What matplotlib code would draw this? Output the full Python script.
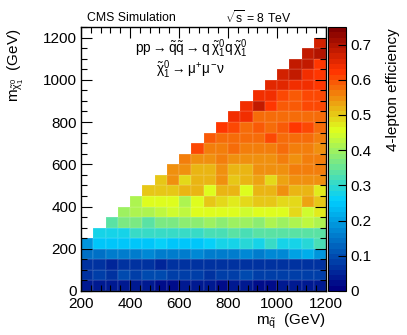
import numpy as np
import matplotlib
matplotlib.use("Agg")
import matplotlib.pyplot as plt
from matplotlib.colors import LinearSegmentedColormap, Normalize
from matplotlib.ticker import MultipleLocator

plt.rcParams['font.family'] = ['Liberation Sans', 'DejaVu Sans']
plt.rcParams['mathtext.fontset'] = 'custom'
plt.rcParams['mathtext.rm'] = 'Liberation Sans'
plt.rcParams['mathtext.it'] = 'Liberation Sans'
plt.rcParams['mathtext.bf'] = 'Liberation Sans:bold'

# bin edges (GeV)
msq_edges = np.arange(200, 1201, 50)
mchi_edges = np.arange(0, 1201, 50)

# efficiency per m_chi row (bottom -> top); each row starts at the diagonal
eff_rows = [
    [0.03, 0.03, 0.03, 0.03, 0.035, 0.03, 0.025, 0.025, 0.03, 0.03, 0.03, 0.025, 0.03, 0.03, 0.025, 0.025, 0.03, 0.03, 0.03, 0.03],
    [0.07, 0.08, 0.07, 0.09, 0.08, 0.09, 0.09, 0.08, 0.08, 0.085, 0.07, 0.08, 0.08, 0.09, 0.08, 0.08, 0.075, 0.08, 0.075, 0.08],
    [0.06, 0.065, 0.05, 0.06, 0.06, 0.065, 0.05, 0.06, 0.06, 0.07, 0.06, 0.06, 0.06, 0.07, 0.06, 0.06, 0.06, 0.065, 0.07, 0.07],
    [0.14, 0.14, 0.15, 0.16, 0.155, 0.17, 0.16, 0.155, 0.16, 0.17, 0.16, 0.155, 0.16, 0.17, 0.16, 0.17, 0.17, 0.21, 0.22, 0.18],
    [0.18, 0.24, 0.245, 0.25, 0.25, 0.25, 0.26, 0.25, 0.245, 0.25, 0.26, 0.28, 0.28, 0.29, 0.28, 0.30, 0.28, 0.28, 0.29, 0.32],
    [0.27, 0.275, 0.28, 0.30, 0.30, 0.31, 0.30, 0.31, 0.31, 0.32, 0.32, 0.33, 0.32, 0.33, 0.33, 0.34, 0.33, 0.34, 0.34],
    [0.33, 0.36, 0.37, 0.34, 0.37, 0.37, 0.38, 0.38, 0.39, 0.38, 0.39, 0.40, 0.38, 0.42, 0.40, 0.42, 0.43, 0.42],
    [0.39, 0.41, 0.42, 0.43, 0.44, 0.43, 0.45, 0.45, 0.45, 0.45, 0.44, 0.45, 0.46, 0.45, 0.48, 0.44, 0.47],
    [0.42, 0.45, 0.45, 0.46, 0.41, 0.455, 0.50, 0.49, 0.47, 0.49, 0.50, 0.50, 0.49, 0.48, 0.53, 0.50],
    [0.50, 0.50, 0.505, 0.51, 0.52, 0.46, 0.51, 0.52, 0.46, 0.51, 0.515, 0.54, 0.51, 0.51, 0.465],
    [0.50, 0.54, 0.49, 0.52, 0.51, 0.54, 0.505, 0.52, 0.53, 0.48, 0.535, 0.55, 0.54, 0.54],
    [0.54, 0.545, 0.52, 0.52, 0.54, 0.52, 0.51, 0.55, 0.545, 0.54, 0.555, 0.56, 0.565],
    [0.555, 0.55, 0.545, 0.555, 0.55, 0.54, 0.54, 0.545, 0.555, 0.55, 0.565, 0.565],
    [0.61, 0.565, 0.565, 0.575, 0.57, 0.565, 0.565, 0.575, 0.565, 0.565, 0.54],
    [0.59, 0.575, 0.575, 0.575, 0.575, 0.60, 0.575, 0.58, 0.575, 0.565],
    [0.62, 0.60, 0.58, 0.59, 0.58, 0.595, 0.615, 0.61, 0.575],
    [0.635, 0.63, 0.585, 0.58, 0.585, 0.585, 0.585, 0.58],
    [0.635, 0.675, 0.62, 0.595, 0.595, 0.60, 0.60],
    [0.635, 0.63, 0.60, 0.595, 0.60, 0.60],
    [0.655, 0.65, 0.64, 0.635, 0.625],
    [0.66, 0.68, 0.635, 0.62],
    [0.68, 0.68, 0.62],
    [0.68, 0.70],
    [0.67],
]

ncol = len(msq_edges) - 1
eff = np.full((len(mchi_edges) - 1, ncol), np.nan)
for j, row in enumerate(eff_rows):
    eff[j, ncol - len(row):] = row
eff = np.ma.masked_invalid(eff)

# ROOT-like rainbow palette, 50 contours
stops = [0.00, 0.34, 0.61, 0.84, 1.00]
red = [0.00, 0.00, 0.87, 1.00, 0.51]
green = [0.00, 0.81, 1.00, 0.20, 0.00]
blue = [0.51, 1.00, 0.12, 0.00, 0.00]
cmap = LinearSegmentedColormap.from_list(
    "rootpal", [(s, (r, g, b)) for s, r, g, b in zip(stops, red, green, blue)], N=50)
norm = Normalize(0, 0.75)

W, H = 407, 335
fig = plt.figure(figsize=(W / 100, H / 100), dpi=100)
ax = fig.add_axes([81 / W, 44 / H, 245 / W, 264 / H])
mesh = ax.pcolormesh(msq_edges, mchi_edges, eff, cmap=cmap, norm=norm,
                     edgecolors=(1, 1, 1, 0.07), linewidth=0.3)
ax.set_xlim(200, 1200)
ax.set_ylim(0, 1250)
ax.xaxis.set_major_locator(MultipleLocator(200))
ax.xaxis.set_minor_locator(MultipleLocator(40))
ax.yaxis.set_major_locator(MultipleLocator(200))
ax.yaxis.set_minor_locator(MultipleLocator(50))
ax.tick_params(which='both', direction='in', top=True, right=True, labelsize=11)
ax.tick_params(axis='x', pad=4)
ax.tick_params(axis='y', pad=3)
ax.tick_params(which='major', length=8, width=0.8)
ax.tick_params(which='minor', length=4, width=0.8)
for sp in ax.spines.values():
    sp.set_linewidth(1.0)

cax = fig.add_axes([328 / W, 44 / H, 18 / W, 264 / H])
cb = fig.colorbar(mesh, cax=cax)
cb.set_ticks([0, 0.1, 0.2, 0.3, 0.4, 0.5, 0.6, 0.7])
cb.set_ticklabels(["0", "0.1", "0.2", "0.3", "0.4", "0.5", "0.6", "0.7"])
cax.tick_params(direction='in', length=6, width=0.8, labelsize=11, pad=3)
cb.outline.set_linewidth(0.8)

fig.text(393 / W, 1 - 28 / H, "4-lepton efficiency", rotation=90, ha='center', va='top', fontsize=11)
fig.text(16 / W, 1 - 28 / H, r"m$_{\tilde{\chi}^{0}_{1}}$  (GeV)", rotation=90, ha='center', va='top', fontsize=11)
fig.text(325 / W, 1 - 331 / H, r"m$_{\tilde{q}}$  (GeV)", ha='right', va='bottom', fontsize=11)

fig.text(87 / W, 1 - 18 / H, "CMS Simulation", ha='left', va='center', fontsize=8.8)
fig.text(225 / W, 1 - 18 / H, r"$\sqrt{s}$ = 8 TeV", ha='left', va='center', fontsize=8.8)

ax.text(191 / W, 1 - 49 / H,
        r"pp$\rightarrow\tilde{q}\tilde{q}\rightarrow$q$\,\tilde{\chi}^{0}_{1}$q$\,\tilde{\chi}^{0}_{1}$",
        transform=fig.transFigure, ha='center', va='center', fontsize=9.8)
ax.text(190 / W, 1 - 70 / H, r"$\tilde{\chi}^{0}_{1}\rightarrow\mu^{+}\mu^{-}\nu$",
        transform=fig.transFigure, ha='center', va='center', fontsize=9.8)

fig.savefig("out.png", dpi=100)
